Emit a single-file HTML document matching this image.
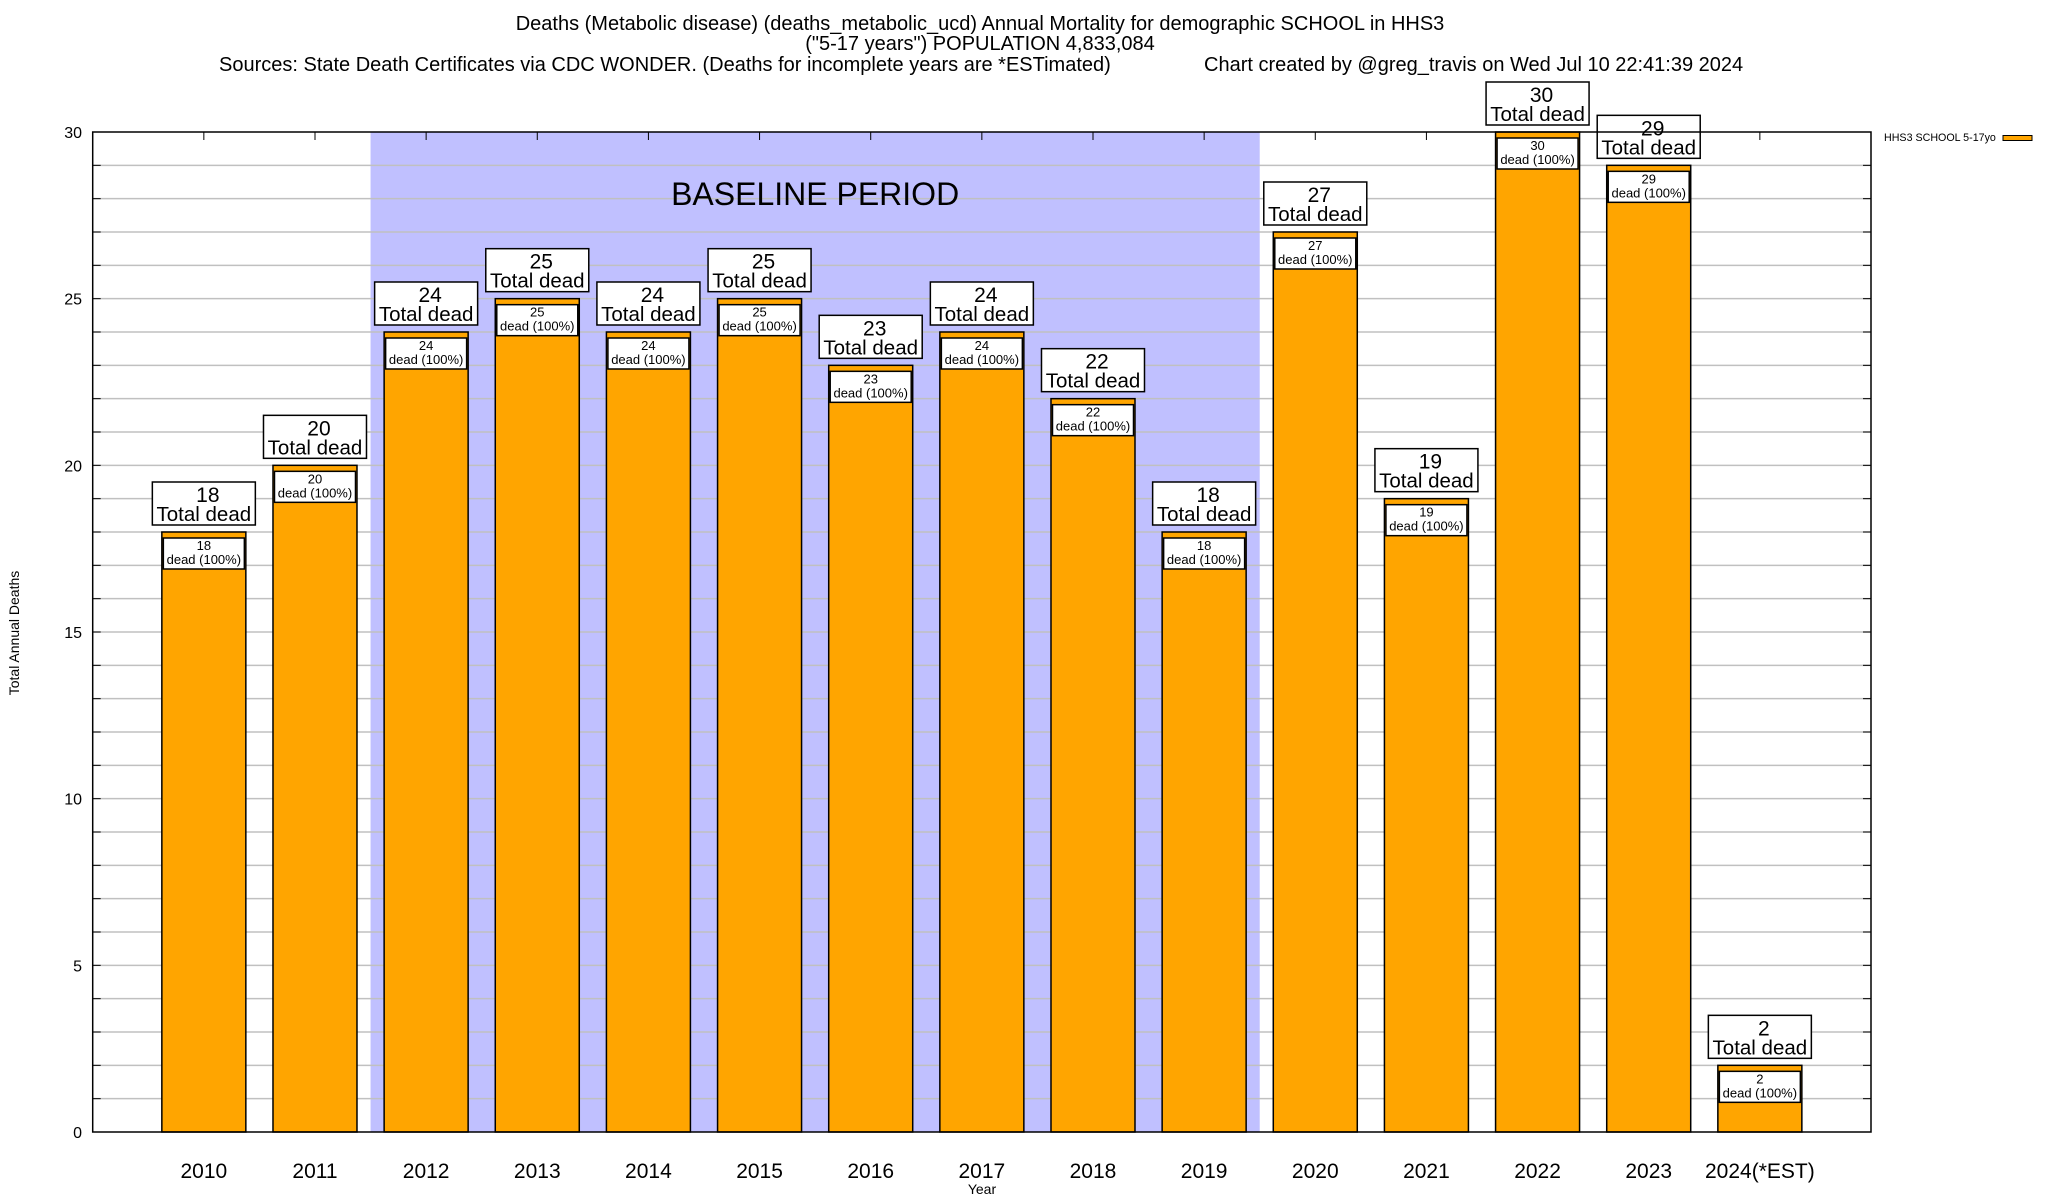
<!DOCTYPE html>
<html><head><meta charset="utf-8"><style>
body{margin:0;background:#fff;}
svg{display:block;font-family:"Liberation Sans",Arial,sans-serif;}
</style></head><body>
<svg id="chart" width="2048" height="1200" viewBox="0 0 2048 1200">
<g font-size="20" text-anchor="middle">
<text x="980" y="30">Deaths (Metabolic disease) (deaths_metabolic_ucd) Annual Mortality for demographic SCHOOL in HHS3</text>
<text x="980" y="50">("5-17 years") POPULATION 4,833,084</text>
<text x="219" y="71" text-anchor="start">Sources: State Death Certificates via CDC WONDER. (Deaths for incomplete years are *ESTimated)</text>
<text x="1204" y="71" text-anchor="start">Chart created by @greg_travis on Wed Jul 10 22:41:39 2024</text>
</g>
<g id="plot"></g>
<text x="1884" y="141" font-size="10.7">HHS3 SCHOOL 5-17yo</text>
<rect x="2003" y="135.5" width="29" height="5" fill="#ffa500" stroke="#000" stroke-width="1"/>
<text transform="translate(19,633) rotate(-90)" text-anchor="middle" font-size="14">Total Annual Deaths</text>
<text x="982" y="1194" text-anchor="middle" font-size="14">Year</text>
</svg>
<script>
const categories=["2010","2011","2012","2013","2014","2015","2016","2017","2018","2019","2020","2021","2022","2023","2024(*EST)"];
const deaths=[18,20,24,25,24,25,23,24,22,18,27,19,30,29,2];
const yTicks=[0,5,10,15,20,25,30];
const baselineStart=2, baselineEnd=9;
const NS="http://www.w3.org/2000/svg";
const L=92.7,R=1871,T=132,B=1132,yMax=30;
const step=(R-L)/(categories.length+1);
const xC=i=>L+step*(i+1);
const y=v=>B-(v/yMax)*(B-T);
const g=document.getElementById('plot');
function mk(t,a,p){const e=document.createElementNS(NS,t);for(const k in a)e.setAttribute(k,a[k]);(p||g).appendChild(e);return e;}
const sh=mk('rect',{x:xC(baselineStart)-step/2,y:T,width:step*(baselineEnd-baselineStart+1),height:B-T,fill:'#c0c0ff'});


for(let v=1;v<yMax;v++){
 const gl=mk('line',{x1:L,x2:R,y1:y(v),y2:y(v),stroke:'#c0c0c0','stroke-width':1.5});
 
 
 mk('line',{x1:L,x2:L+8,y1:y(v),y2:y(v),stroke:'#000'});
 mk('line',{x1:R-8,x2:R,y1:y(v),y2:y(v),stroke:'#000'});
}
const bt=mk('text',{x:xC(baselineStart)-step/2+step*(baselineEnd-baselineStart+1)/2,y:205,'text-anchor':'middle','font-size':32});
bt.textContent='BASELINE PERIOD';


yTicks.forEach(v=>{
 const t=mk('text',{x:82,y:y(v)+6,'text-anchor':'end','font-size':16});
 t.textContent=v;
 
 
});
const bw=84;
categories.forEach((c,i)=>{
 const x=xC(i),v=deaths[i];
 mk('line',{x1:x,x2:x,y1:T,y2:T+8,stroke:'#000'});
 mk('line',{x1:x,x2:x,y1:B-8,y2:B,stroke:'#000'});
 const b=mk('rect',{x:x-bw/2,y:y(v),width:bw,height:B-y(v),fill:'#ffa500',stroke:'#000','stroke-width':1.5});
 
 
 const ib=mk('rect',{x:x-bw/2+1.5,y:y(v)+6,width:bw-3,height:31,fill:'#fff',stroke:'#000','stroke-width':1.5});
 
 
 const t1=mk('text',{x:x,y:y(v)+18,'text-anchor':'middle','font-size':13});t1.textContent=v;
 
 
 const t2=mk('text',{x:x,y:y(v)+32,'text-anchor':'middle','font-size':13});t2.textContent='dead (100%)';
 
 
 const ob=mk('rect',{x:x-51.5,y:y(v)-50,width:103,height:43,fill:'#fff',stroke:'#000','stroke-width':1.5});
 
 
 const t3=mk('text',{x:x+4,y:y(v)-30,'text-anchor':'middle','font-size':21});t3.textContent=v;
 
 
 const t4=mk('text',{x:x,y:y(v)-11,'text-anchor':'middle','font-size':20.5});t4.textContent='Total dead';
 
 
 const xl=mk('text',{x:x,y:1178,'text-anchor':'middle','font-size':21});xl.textContent=c;
 
 
});
const fr=mk('rect',{x:L,y:T,width:R-L,height:B-T,fill:'none',stroke:'#000','stroke-width':1.5});


</script>
</body></html>
